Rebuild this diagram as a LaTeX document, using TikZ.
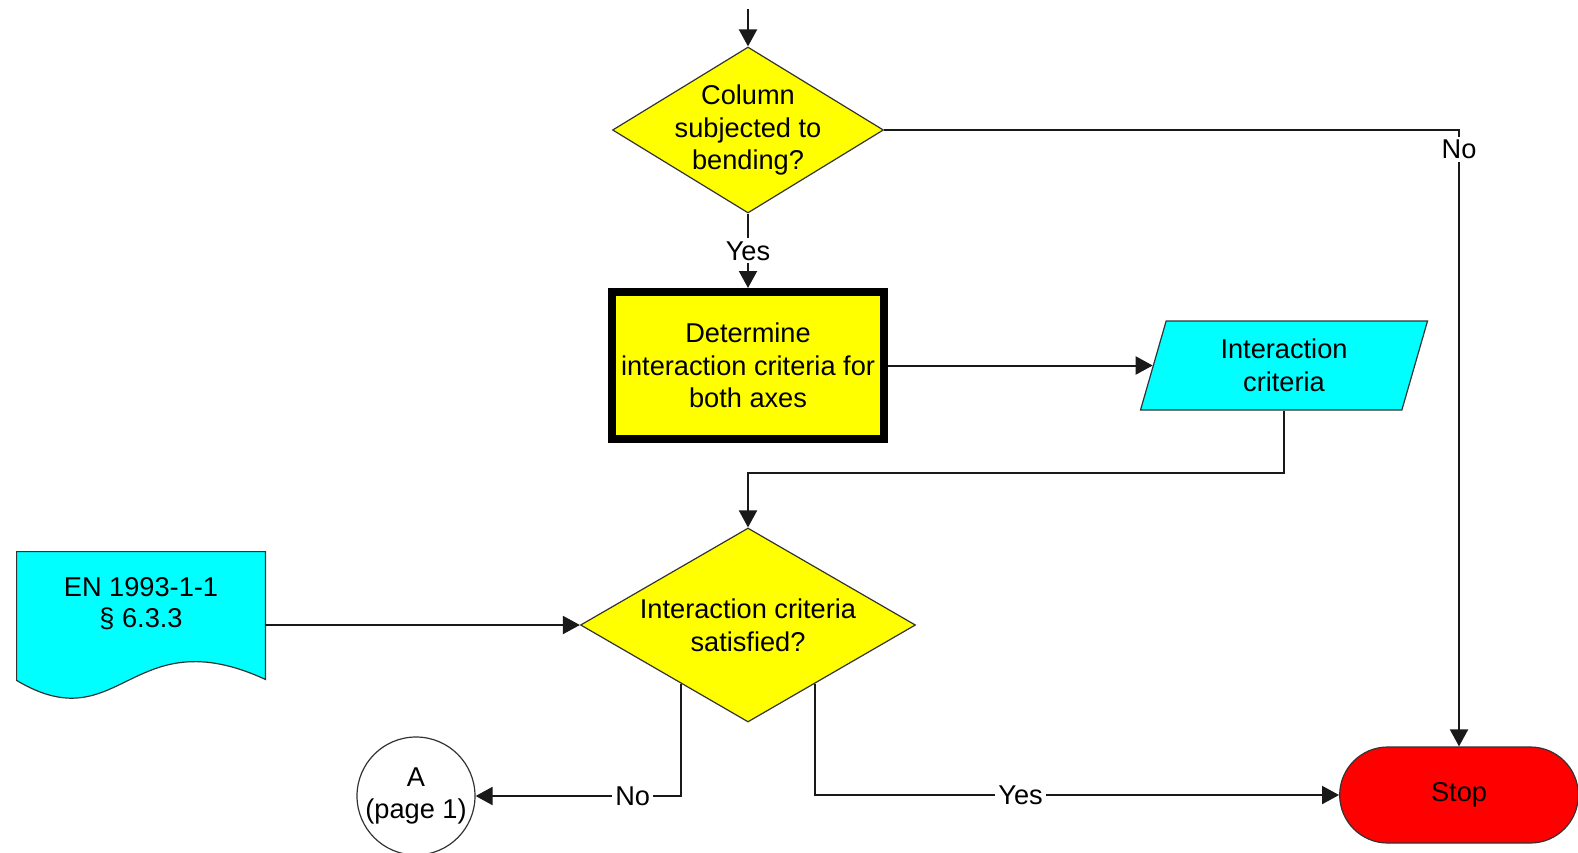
\documentclass[tikz,border=0pt]{standalone}
\usepackage{fontspec}
\setmainfont{Liberation Sans}
\usetikzlibrary{arrows.meta,shapes.geometric,shapes.misc,backgrounds}
\definecolor{chartyellow}{RGB}{255,255,0}
\definecolor{chartcyan}{RGB}{0,255,255}
\definecolor{chartred}{RGB}{255,0,0}
\newcommand{\chartfont}{\fontsize{13.6pt}{16.3pt}\selectfont}
\newcommand{\docfont}{\fontsize{13.6pt}{15.5pt}\selectfont}

\begin{document}
\begin{tikzpicture}[x=0.5pt,y=-0.5pt,
		every node/.style={font=\chartfont, align=center, text=black},
		shp/.style={draw=black!80, line width=0.6pt},
		decide/.style={shp, diamond, fill=chartyellow, inner sep=0pt},
		arr/.style={draw=black!90, line width=1pt, -{Triangle[length=8.5pt,width=9pt]}},
		lbl/.style={fill=white, inner sep=1.5pt}]
			\useasboundingbox (0,0) rectangle (1578,852);
			\node[decide, aspect=1.633, inner xsep=-8pt, minimum width=135.5pt, minimum height=83pt] (bending) at (748,130) {Column\\subjected to\\bending?};
			\node[draw=black, line width=4pt, fill=chartyellow, minimum width=136pt, minimum height=73.5pt, inner sep=1pt] (determine) at (748,365.5) {Determine\\interaction criteria for\\both axes};
			\node[shp, trapezium, trapezium left angle=64, trapezium right angle=116, trapezium stretches body, fill=chartcyan, minimum width=143.5pt, minimum height=44.5pt, inner sep=0pt] (criteria) at (1284,365.5) {Interaction\\criteria};
			\node[decide, aspect=1.727, minimum width=167.5pt, minimum height=97pt] (satisfied) at (748,625) {Interaction criteria\\satisfied?};
			\node[font=\docfont, minimum width=124pt, minimum height=52pt, inner sep=0pt] (eurocode) at (141,604) {EN 1993-1-1\\§ 6.3.3};
			\node[shp, circle, fill=white, minimum size=59pt, inner sep=0pt] (pageA) at (416,796) {A\\(page 1)};
			\node[shp, rounded rectangle, fill=chartred, minimum width=126pt, minimum height=48pt] (stop) at (1459,795) {Stop};
			\coordinate (entry) at (748,9);
			\begin{scope}[on background layer]
				\draw[shp, fill=chartcyan] (eurocode.north west) -- (eurocode.north east) -- ([yshift=-11.5pt]eurocode.south east)
					.. controls ([xshift=-67.5pt,yshift=19.5pt]eurocode.south east) and ([xshift=-72.5pt,yshift=-43pt]eurocode.south east) .. ([yshift=-12pt]eurocode.south west) -- cycle;
			\end{scope}
			\draw[arr] (entry) -- (bending);
			\draw[arr] (bending) -- node[lbl]{Yes} (determine);
			\draw[arr] (bending) -| node[lbl, pos=0.516]{No} (stop);
			\draw[arr] (determine) -- (criteria);
			\draw[arr] (criteria.center |- criteria.south) -- ++(0,62) -| (satisfied);
			\draw[arr] (eurocode.east |- satisfied.west) -- (satisfied.west);
			\draw[arr] (satisfied.221) |- node[lbl, pos=0.617]{No} (pageA);
			\draw[arr] (satisfied.-41) |- node[lbl, pos=0.696]{Yes} (stop);
\end{tikzpicture}
\end{document}
